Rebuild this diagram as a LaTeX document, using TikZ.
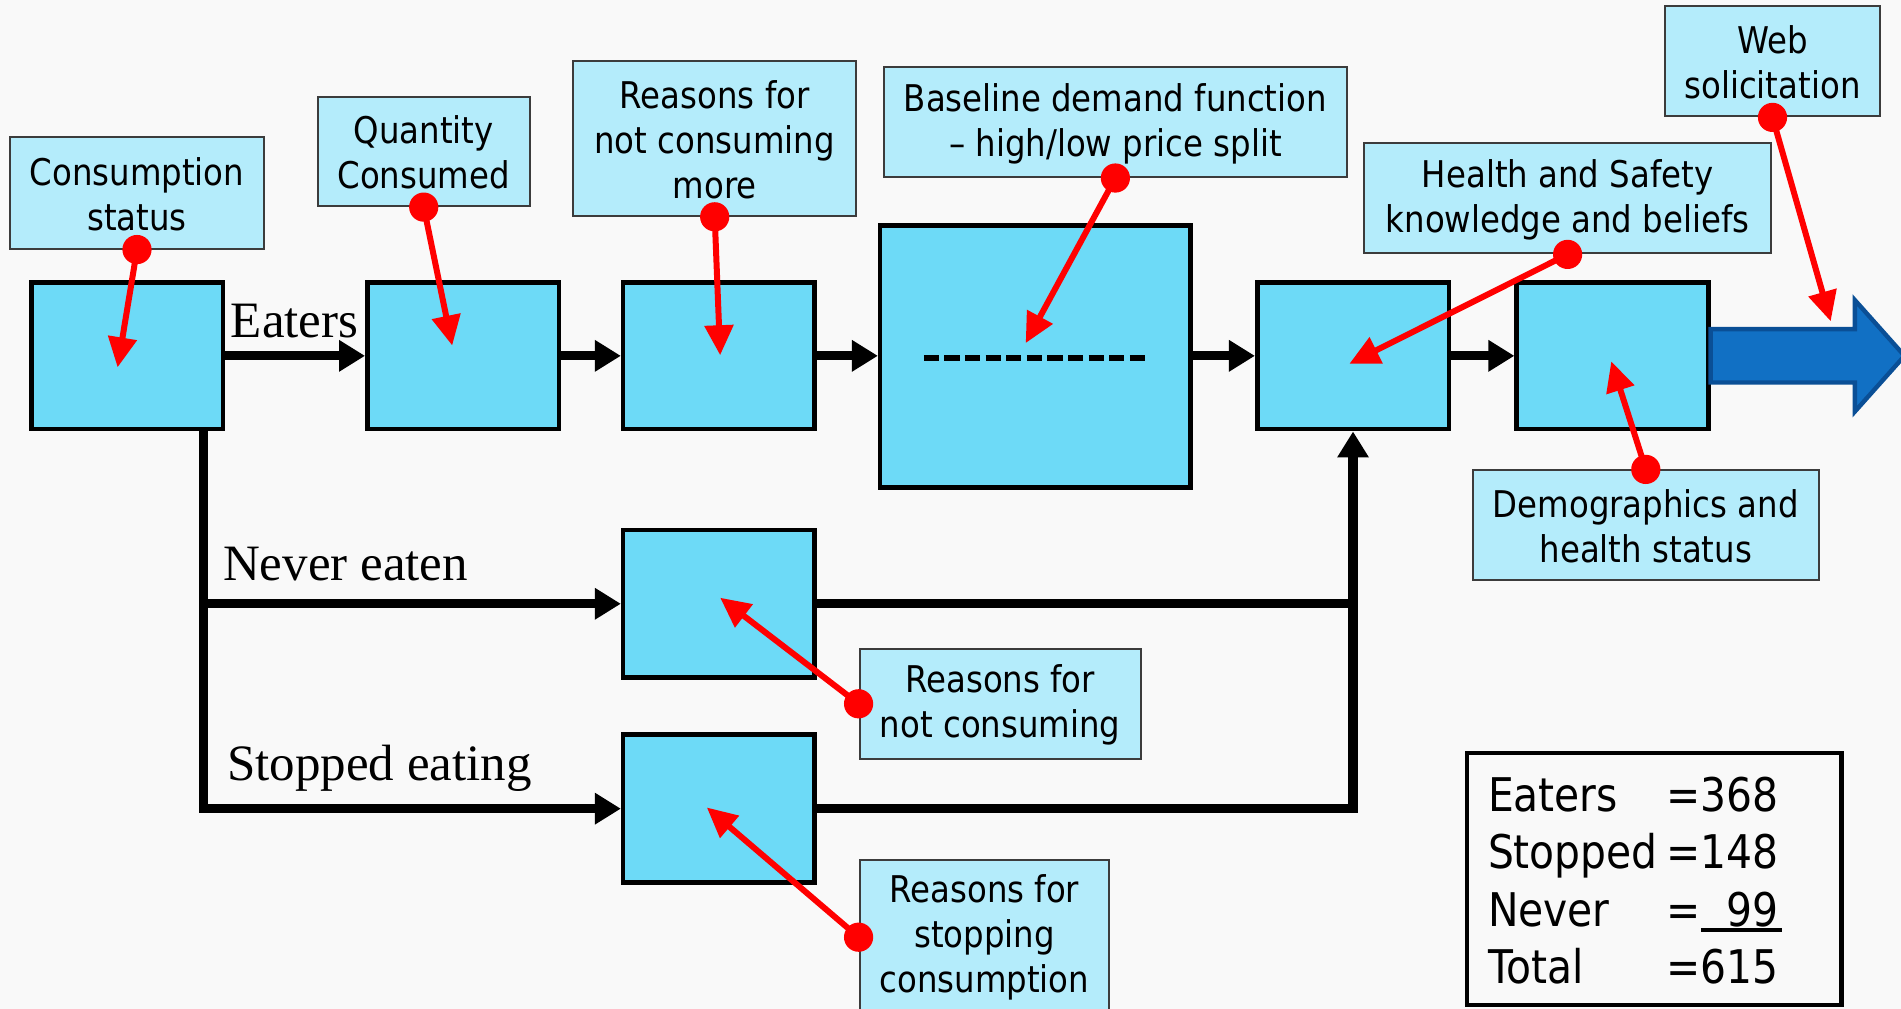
\documentclass[tikz,border=0pt]{standalone}
\usepackage{fontspec}
\setmainfont{Liberation Serif}
\newfontfamily\boxfont[FakeStretch=0.88]{DejaVu Sans}
\usetikzlibrary{arrows.meta,fit,calc}
\definecolor{bg}{RGB}{249,249,249}
\definecolor{mainfill}{RGB}{109,218,247}
\definecolor{lblfill}{RGB}{180,236,251}
\definecolor{arrowblue}{RGB}{17,112,196}
\definecolor{arrowedge}{RGB}{10,79,150}
\definecolor{lbledge}{RGB}{60,60,60}
\begin{document}
\begin{tikzpicture}[x=0.6062pt,y=-0.6062pt,
  mainbox/.style={draw=black,fill=mainfill,line width=2.3pt,inner sep=0pt},
  lblbox/.style={draw=lbledge,fill=lblfill,line width=1pt,inner sep=0pt},
  lbltext/.style={inner sep=0pt,align=center,font=\boxfont\fontsize{18.4pt}{22.5pt}\selectfont},
  flow/.style={line width=4.6pt,-{Triangle[length=13pt,width=15pt]}},
  branch/.style={line width=4.6pt},
  ptr/.style={red,line width=3pt,-{Triangle[length=15pt,width=14pt]}},
  dotmark/.style={fill=red},
  flowlbl/.style={font=\fontsize{25.5pt}{30pt}\selectfont,inner sep=0pt},
  tot/.style={font=\boxfont\fontsize{23.2pt}{28pt}\selectfont,inner sep=0pt},
  bigarrow/.style={fill=arrowblue,draw=arrowedge,line width=2.2pt}]
\useasboundingbox (0,0) rectangle (1568,832);
\clip (0,0) rectangle (1568,832);
\fill[bg] (0,0) rectangle (1568,832);

% label boxes
\node[lblbox,fit={(8,113)(218,205)}] (cs) {};
\node[lblbox,fit={(262,80)(437,170)}] (qc) {};
\node[lblbox,fit={(473,50)(706,178)}] (rm) {};
\node[lblbox,fit={(729,55)(1111,146)}] (bd) {};
\node[lblbox,fit={(1125,118)(1461,209)}] (hs) {};
\node[lblbox,fit={(1373,5)(1551,96)}] (ws) {};
\node[lblbox,fit={(1215,388)(1500,478)}] (dh) {};
\node[lblbox,fit={(709,535)(941,626)}] (rn) {};
\node[lblbox,fit={(709,709)(915,837)}] (rs) {};
\node[lbltext] (cst) at ($(cs.center)+(0,1)$) {Consumption\\status};
\node[lbltext] (qct) at ($(qc.center)+(0,1)$) {Quantity\\Consumed};
\node[lbltext] (rmt) at ($(rm.center)+(0,1)$) {Reasons for\\not consuming\\more};
\node[lbltext] (bdt) at ($(bd.center)+(0,1.5)$) {Baseline demand function\\– high/low price split};
\node[lbltext] (hst) at ($(hs.center)+(0,1.5)$) {Health and Safety\\knowledge and beliefs};
\node[lbltext] (wst) at ($(ws.center)+(0,1)$) {Web\\solicitation};
\node[lbltext] (dht) at ($(dh.center)+(0,1)$) {Demographics and\\health status};
\node[lbltext] (rnt) at ($(rn.center)+(0,1)$) {Reasons for\\not consuming};
\node[lbltext] (rst) at ($(rs.center)+(0,0)$) {Reasons for\\stopping\\consumption};

% main boxes
\node[mainbox,fit={(26,233)(184,354)}] (b1) {};
\node[mainbox,fit={(303,233)(461,354)}] (b2) {};
\node[mainbox,fit={(514,233)(672,354)}] (b3) {};
\node[mainbox,fit={(726,186)(982,402)}] (b4) {};
\node[mainbox,fit={(1037,233)(1195,354)}] (b5) {};
\node[mainbox,fit={(1251,233)(1409,354)}] (b6) {};
\node[mainbox,fit={(514,437)(672,559)}] (bN) {};
\node[mainbox,fit={(514,606)(672,728)}] (bS) {};

\draw[line width=3pt,dash pattern=on 7.6pt off 2.7pt] (762,295) -- (948,295);

% flow
\draw[flow] (b1.east) -- (b2.west);
\draw[flow] (b2.east) -- (b3.west);
\draw[flow] (b3.east) -- (b3.east -| b4.west);
\draw[flow] (b5.west -| b4.east) -- (b5.west);
\draw[flow] (b5.east) -- (b6.west);

\coordinate (vtop) at (168,354);
\draw[flow] (vtop) |- (bS.west);
\draw[flow] (bN.west -| vtop) -- (bN.west);
\draw[branch] (bN.east) -- (bN.east -| b5.south);
\draw[flow] (bS.east) -| (b5.south);

\node[flowlbl] (le) at (243,265) {Eaters};
\node[flowlbl] (ln) at (285,465) {Never eaten};
\node[flowlbl] (ls) at (313,634) {Stopped eating};

% big output arrow
\draw[bigarrow] ($(b6.east)+(0,-22)$) -- ++(119,0) -- ++(0,-24) -- ++(41,46)
  -- ++(-41,46) -- ++(0,-24) -- ++(-119,0) -- cycle;

% totals
\draw[line width=2.4pt] (1210,621) rectangle (1519,829);
\foreach \lab/\num/\yy/\nm in {Eaters/368/669.5/a,Stopped/148/716/b,Never/99/764/c,Total/615/811/d}{
  \node[tot,anchor=base west] (t\nm l) at (1227,\yy) {\lab};
  \node[tot,anchor=base] (t\nm e) at (1389,\yy) {=};
  \node[tot,anchor=base east] (t\nm n) at (1467,\yy) {\num};
}
\draw[line width=1.7pt] (1403,767) -- (1470,767);

% pointers
\coordinate (e1) at (97,303);
\coordinate (e2) at (373,285);
\coordinate (e3) at (594,293);
\coordinate (e4) at (846,283);
\coordinate (e5) at (1113,300);
\coordinate (e6) at (1510,265);
\coordinate (e7) at (1329,298);
\coordinate (e8) at (594,493);
\coordinate (e9) at (583,666);
\foreach \s/\e in {cs.south/e1,qc.south/e2,rm.south/e3,bd.south/e4,hs.south/e5,ws.south/e6,dh.north/e7,rn.west/e8,rs.west/e9}{
  \draw[ptr] (\s) -- (\e);
  \fill[dotmark] (\s) circle[radius=7.3pt];
}
\end{tikzpicture}
\end{document}
